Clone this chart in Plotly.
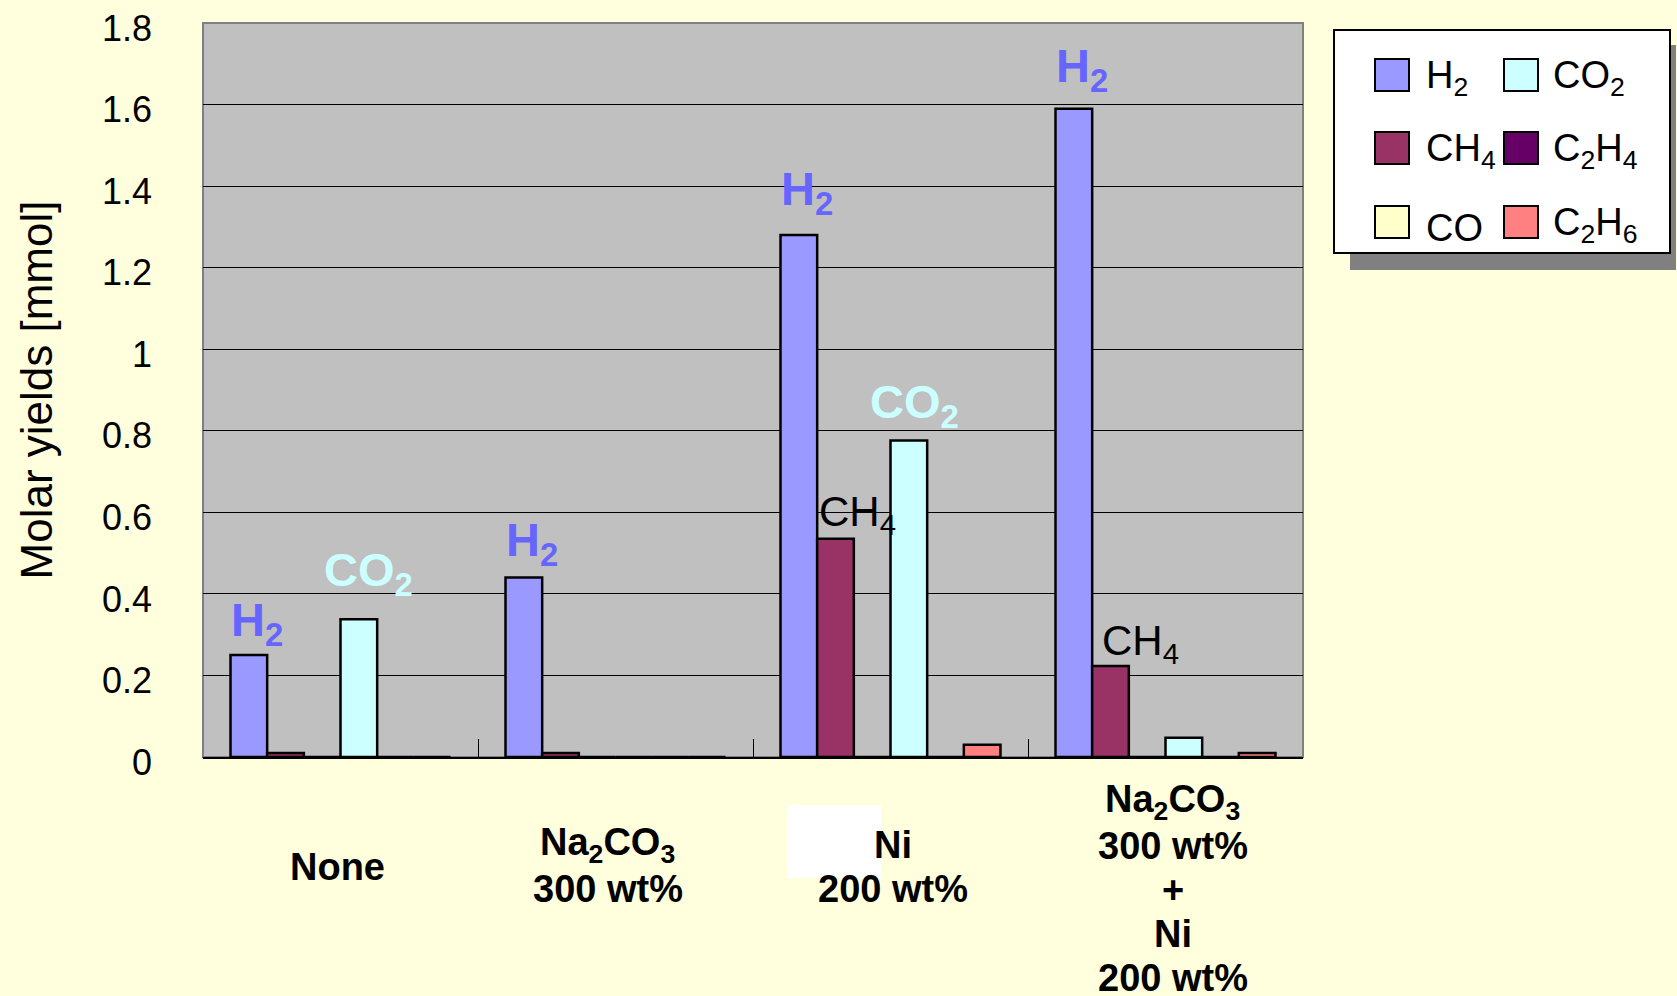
import plotly.graph_objects as go

# ---------------- data ----------------
categories = ["None", "Na2CO3 300 wt%", "Ni 200 wt%", "Na2CO3 300 wt% + Ni 200 wt%"]
category_lines = [
    ["None"],
    ["Na<sub>2</sub>CO<sub>3</sub>", "300 wt%"],
    ["Ni", "200 wt%"],
    ["Na<sub>2</sub>CO<sub>3</sub>", "300 wt%", "+", "Ni", "200 wt%"],
]
series_names = ["H2", "CH4", "CO", "CO2", "C2H4", "C2H6"]
series_labels = ["H<sub>2</sub>", "CH<sub>4</sub>", "CO", "CO<sub>2</sub>",
                 "C<sub>2</sub>H<sub>4</sub>", "C<sub>2</sub>H<sub>6</sub>"]
h2 = [0.25, 0.44, 1.28, 1.59]
ch4 = [0.01, 0.01, 0.535, 0.223]
co = [0.0, 0.0, 0.0, 0.0]
co2 = [0.338, 0.0, 0.776, 0.047]
c2h4 = [0.0, 0.0, 0.0, 0.0]
c2h6 = [0.0, 0.0, 0.03, 0.01]
series_values = [h2, ch4, co, co2, c2h4, c2h6]
y_ticks = [0, 0.2, 0.4, 0.6, 0.8, 1.0, 1.2, 1.4, 1.6, 1.8]
y_ticktext = ["0", "0.2", "0.4", "0.6", "0.8", "1", "1.2", "1.4", "1.6", "1.8"]

# ---------------- styles ----------------
colors = ["#9999ff", "#993366", "#ffffcc", "#ccffff", "#660066", "#ff8080"]
PAPER = "#ffffdd"
PLOTBG = "#c0c0c0"
SANS = "Liberation Sans, Arial, sans-serif"

W, H = 1677, 996
L, R, T, B = 203, 1303, 23, 757  # plot area in px

def px_x(px):
    return (px - L) / (R - L)

def px_y(py):
    return (B - py) / (B - T)

def bold(s):
    return "<b>" + s.replace("<sub>", "<sub><b>").replace("</sub>", "</b></sub>") + "</b>"

fig = go.Figure()
for name, vals, col in zip(series_names, series_values, colors):
    fig.add_trace(go.Bar(
        x=categories, y=vals, name=name,
        marker=dict(color=col, line=dict(color="black", width=2.5)),
        showlegend=False,
    ))

annotations = []
shapes = []

# plot frame (gray)
shapes.append(dict(type="rect", xref="paper", yref="paper", x0=0, x1=1, y0=0, y1=1,
                   line=dict(color="#808080", width=2), layer="below"))

# ---- bar labels ----
nser = len(series_names)
bargap = 0.2
bw = (1 - bargap) / nser

def bar_center(cat_idx, ser_idx):
    return cat_idx - (1 - bargap) / 2 + bw * (ser_idx + 0.5)

# (category index, series index, anchor, xshift px, yshift px, color, bold)
bar_labels = [
    (0, 0, "left", -2, 0, "#6666ff", True),
    (0, 3, "center", 10, 14, "#ccffff", True),
    (1, 0, "left", -2, 3, "#6666ff", True),
    (2, 0, "left", -2, 11, "#6666ff", True),
    (2, 3, "center", 6, 4, "#ccffff", True),
    (2, 1, "left", 0, -4, "black", False),
    (3, 0, "left", -2, 8, "#6666ff", True),
    (3, 1, "left", 8, -6, "black", False),
]
for ci, si, anc, dx, dy, col, isbold in bar_labels:
    xc = bar_center(ci, si)
    x = xc - bw / 2 if anc == "left" else xc
    txt = series_labels[si]
    if isbold:
        txt = bold(txt)
        font = dict(family=SANS, size=47, color=col)
    else:
        font = dict(family=SANS, size=42, color=col)
    annotations.append(dict(x=x, y=series_values[si][ci], xref="x", yref="y",
                            text=txt, showarrow=False, xanchor=anc, yanchor="bottom",
                            xshift=dx, yshift=dy, font=font))

# ---- category labels (below axis) ----
first_line_px = [867, 845, 845, 802]
line_step = 44
label_xshift = [-3, -8, 2, 7]
# white patch present in the original figure
shapes.append(dict(type="rect", xref="paper", yref="paper",
                   x0=px_x(787), x1=px_x(881), y0=px_y(878), y1=px_y(805),
                   fillcolor="white", line=dict(width=0), layer="below"))
for ci, lines in enumerate(category_lines):
    for li, ln in enumerate(lines):
        annotations.append(dict(x=ci, y=px_y(first_line_px[ci] + li * line_step),
                                xref="x", yref="paper", text=bold(ln),
                                showarrow=False, xanchor="center", yanchor="middle",
                                xshift=label_xshift[ci],
                                font=dict(family=SANS, size=38, color="black")))

# ---- legend (drawn box) ----
shapes.append(dict(type="rect", xref="paper", yref="paper",
                   x0=px_x(1350), x1=px_x(1676), y0=px_y(270), y1=px_y(45),
                   fillcolor="#808080", line=dict(width=0)))
shapes.append(dict(type="rect", xref="paper", yref="paper",
                   x0=px_x(1334), x1=px_x(1670), y0=px_y(253), y1=px_y(30),
                   fillcolor="white", line=dict(color="black", width=2)))
col_sw_x = [1375, 1504]
col_txt_x = [1424, 1551]
row_y = [75, 148, 222]
for i, (lbl, col) in enumerate(zip(series_labels, colors)):
    c, r = divmod(i, 3)
    sx = col_sw_x[c]
    sy = row_y[r]
    shapes.append(dict(type="rect", xref="paper", yref="paper",
                       x0=px_x(sx), x1=px_x(sx + 34), y0=px_y(sy + 16), y1=px_y(sy - 16),
                       fillcolor=col, line=dict(color="black", width=2)))
    annotations.append(dict(x=px_x(col_txt_x[c]), y=px_y(sy + 16), xref="paper", yref="paper",
                            text=lbl, showarrow=False, xanchor="left", yanchor="bottom",
                            yshift=-13, xshift=0,
                            font=dict(family=SANS, size=38, color="black")))

fig.update_layout(
    width=W, height=H, autosize=False,
    margin=dict(l=L, r=W - R, t=T, b=H - B, pad=0),
    paper_bgcolor=PAPER, plot_bgcolor=PLOTBG,
    barmode="group", bargap=bargap, bargroupgap=0,
    showlegend=False,
    annotations=annotations, shapes=shapes,
    xaxis=dict(type="category", showticklabels=False, tickson="boundaries",
               ticks="inside", ticklen=18, tickcolor="black", tickwidth=1,
               showgrid=False, showline=True, linecolor="black", linewidth=2,
               zeroline=False, automargin=False),
    yaxis=dict(range=[0, 1.8001], tickvals=y_ticks, ticktext=y_ticktext,
               tickfont=dict(family=SANS, size=36, color="black"),
               ticks="", ticklabelstandoff=50, ticklabelshift=5,
               showgrid=True, gridcolor="black", gridwidth=1,
               showline=False, zeroline=False, automargin=False,
               title=dict(text="Molar yields [mmol]", standoff=35,
                          font=dict(family=SANS, size=44, color="black"))),
)

fig.write_html("out.html", config={"displayModeBar": False},
               post_script="document.body.style.margin='0';document.body.style.background='%s';" % PAPER)
